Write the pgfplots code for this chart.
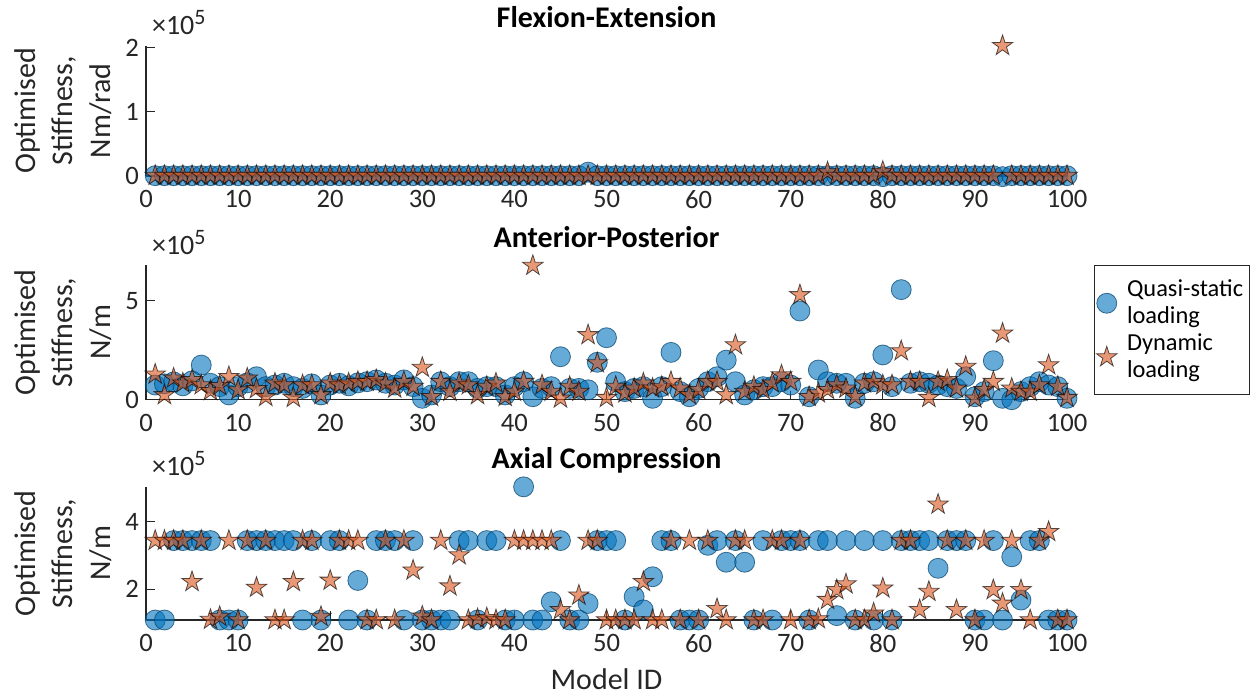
\documentclass[border=0pt]{standalone}
\usepackage{pgfplots}
\pgfplotsset{compat=1.18}
\usepackage{pgfplotstable}
\usepackage{fontspec}
\setmainfont{Carlito}
\definecolor{qblue}{rgb}{0,0.447,0.741}
\definecolor{qorange}{rgb}{0.85,0.325,0.098}
\definecolor{axgray}{rgb}{0.15,0.15,0.15}

\pgfdeclareplotmark{fstar}{%
 \pgfpathmoveto{\pgfpointpolar{90}{\pgfplotmarksize}}%
 \pgfpathlineto{\pgfpointpolar{126}{0.382*\pgfplotmarksize}}%
 \pgfpathlineto{\pgfpointpolar{162}{\pgfplotmarksize}}%
 \pgfpathlineto{\pgfpointpolar{198}{0.382*\pgfplotmarksize}}%
 \pgfpathlineto{\pgfpointpolar{234}{\pgfplotmarksize}}%
 \pgfpathlineto{\pgfpointpolar{270}{0.382*\pgfplotmarksize}}%
 \pgfpathlineto{\pgfpointpolar{306}{\pgfplotmarksize}}%
 \pgfpathlineto{\pgfpointpolar{342}{0.382*\pgfplotmarksize}}%
 \pgfpathlineto{\pgfpointpolar{18}{\pgfplotmarksize}}%
 \pgfpathlineto{\pgfpointpolar{54}{0.382*\pgfplotmarksize}}%
 \pgfpathclose
 \pgfusepathqfillstroke}

% Flexion-Extension (x 1e5 Nm/rad)
\pgfplotstableread{
id c s
1 0.005 0.005
2 0.005 0.005
3 0.005 0.005
4 0.005 0.005
5 0.005 0.005
6 0.005 0.005
7 0.005 0.005
8 0.005 0.005
9 0.005 0.005
10 0.005 0.005
11 0.005 0.005
12 0.005 0.005
13 0.005 0.005
14 0.005 0.005
15 0.005 0.005
16 0.005 0.005
17 0.005 0.005
18 0.005 0.005
19 0.005 0.005
20 0.005 0.005
21 0.005 0.005
22 0.005 0.005
23 0.005 0.005
24 0.005 0.005
25 0.005 0.005
26 0.005 0.005
27 0.005 0.005
28 0.005 0.005
29 0.005 0.005
30 0.005 0.005
31 0.005 0.005
32 0.005 0.005
33 0.005 0.005
34 0.005 0.005
35 0.005 0.005
36 0.005 0.005
37 0.005 0.005
38 0.005 0.005
39 0.005 0.005
40 0.005 0.005
41 0.005 0.005
42 0.005 0.005
43 0.005 0.005
44 0.005 0.005
45 0.005 0.005
46 0.005 0.005
47 0.005 0.005
48 0.06 0.005
49 0.005 0.005
50 0.005 0.005
51 0.005 0.005
52 0.005 0.005
53 0.005 0.005
54 0.005 0.005
55 0.005 0.005
56 0.005 0.005
57 0.005 0.005
58 0.005 0.005
59 0.005 0.005
60 0.005 0.005
61 0.005 0.005
62 0.005 0.005
63 0.005 0.005
64 0.005 0.005
65 0.005 0.005
66 0.005 0.005
67 0.005 0.005
68 0.005 0.005
69 0.005 0.005
70 0.005 0.005
71 0.005 0.005
72 0.005 0.005
73 0.005 0.005
74 0.005 0.06
75 0.005 0.005
76 0.005 0.005
77 0.005 0.005
78 0.005 0.005
79 0.005 0.005
80 -0.01 0.07
81 0.005 0.005
82 0.005 0.005
83 0.005 0.005
84 0.005 0.005
85 0.005 0.005
86 0.005 0.005
87 0.005 0.005
88 0.005 0.005
89 0.005 0.005
90 0.005 0.005
91 0.005 0.005
92 0.005 0.005
93 -0.01 2.03
94 0.005 0.005
95 0.005 0.005
96 0.005 0.005
97 0.005 0.005
98 0.005 0.005
99 0.005 0.005
100 0.005 0.005
}\topdata

% Anterior-Posterior (x 1e5 N/m)
\pgfplotstableread{
id c s
1 0.74 1.28
2 0.80 0.24
3 0.90 1.08
4 0.70 0.83
5 0.95 1.00
6 1.75 0.74
7 0.83 0.45
8 0.66 0.70
9 0.24 1.16
10 0.66 0.49
11 0.85 1.08
12 1.16 0.55
13 0.66 0.15
14 0.74 0.83
15 0.83 0.74
16 0.66 0.10
17 0.57 0.74
18 0.80 0.74
19 0.24 0.24
20 0.74 0.83
21 0.83 0.74
22 0.70 0.83
23 0.85 0.91
24 0.91 0.91
25 1.00 1.00
26 0.83 0.83
27 0.74 0.57
28 1.00 0.91
29 0.66 0.66
30 0.07 1.62
31 0.24 0.15
32 0.91 0.91
33 0.66 0.41
34 0.91 0.83
35 0.91 0.74
36 0.57 0.24
37 0.66 0.66
38 0.66 0.83
39 0.24 0.15
40 0.66 0.41
41 0.91 0.91
42 0.15 6.77
43 0.57 0.74
44 0.66 0.41
45 2.17 0.07
46 0.57 0.66
47 0.57 0.41
48 0.50 3.27
49 1.89 1.85
50 3.13 0.10
51 0.91 0.66
52 0.41 0.33
53 0.57 0.57
54 0.66 0.83
55 0.07 0.57
56 0.66 0.66
57 2.39 0.91
58 0.41 0.57
59 0.15 0.24
60 0.57 0.50
61 0.91 0.91
62 1.16 0.91
63 2.00 0.24
64 0.91 2.76
65 0.24 0.41
66 0.50 0.66
67 0.66 0.50
68 0.66 0.83
69 0.91 1.24
70 0.74 0.91
71 4.48 5.29
72 0.15 0.15
73 1.50 0.33
74 0.91 0.50
75 0.83 0.74
76 0.83 0.57
77 0.07 0.15
78 0.83 0.83
79 0.91 0.91
80 2.26 0.74
81 0.66 0.74
82 5.56 2.46
83 0.83 0.91
84 0.91 0.91
85 0.83 0.10
86 0.74 0.91
87 0.66 1.00
88 0.57 0.57
89 1.16 1.67
90 0.15 0.07
91 0.41 0.50
92 1.97 0.91
93 0.07 3.35
94 0.00 0.57
95 0.41 0.41
96 0.66 0.41
97 0.91 0.74
98 0.74 1.75
99 0.66 0.66
100 0.07 0.10
}\middata

% Axial Compression (x 1e5 N/m)
\pgfplotstableread{
id c s
1 1.09 3.44
2 1.09 3.44
3 3.44 3.44
4 3.44 3.44
5 3.44 2.22
6 3.44 3.44
7 3.44 1.10
8 1.09 1.19
9 1.09 3.44
10 1.09 1.09
11 3.44 3.44
12 3.44 2.05
13 3.44 3.44
14 3.44 1.09
15 3.44 1.09
16 3.44 2.22
17 1.09 3.44
18 3.44 3.44
19 1.09 1.19
20 3.44 2.26
21 3.44 3.44
22 1.09 3.44
23 2.26 3.44
24 1.09 1.09
25 3.44 1.09
26 3.44 3.44
27 3.44 1.09
28 1.09 3.44
29 3.44 2.56
30 1.09 1.20
31 1.09 1.09
32 1.09 3.44
33 1.09 2.09
34 3.44 3.01
35 3.44 1.09
36 1.09 1.12
37 3.44 1.15
38 3.44 1.09
39 1.09 1.09
40 1.09 3.44
41 5.03 3.44
42 1.09 3.44
43 1.09 3.44
44 1.63 3.44
45 3.44 1.39
46 1.09 1.09
47 1.09 1.82
48 1.58 3.44
49 3.44 3.44
50 3.44 1.09
51 3.44 1.09
52 1.09 1.09
53 1.78 1.09
54 1.39 2.22
55 2.37 1.09
56 3.44 1.09
57 3.44 3.44
58 1.09 1.09
59 1.09 3.44
60 1.09 1.09
61 3.30 3.44
62 3.44 1.42
63 2.80 1.09
64 3.44 3.44
65 2.80 3.44
66 1.09 1.09
67 3.44 1.09
68 1.09 3.44
69 3.44 3.44
70 3.44 1.09
71 3.44 3.44
72 1.09 1.09
73 3.44 1.12
74 3.44 1.69
75 1.22 1.98
76 3.44 2.15
77 1.09 1.09
78 3.44 1.09
79 1.09 1.29
80 3.44 2.03
81 1.09 1.09
82 3.44 3.44
83 3.44 3.44
84 3.44 1.39
85 3.44 1.93
86 2.62 4.51
87 3.44 3.44
88 3.44 1.39
89 3.44 3.44
90 1.09 1.09
91 1.09 3.44
92 3.44 1.98
93 1.09 1.58
94 2.96 3.44
95 1.68 1.98
96 3.44 1.09
97 3.44 3.44
98 1.09 3.70
99 1.09 1.09
100 1.09 1.09
}\botdata

\pgfplotsset{
 myax/.style={
  scale only axis, width=460.5pt, xmin=0, xmax=100, clip=false,
  axis x line=bottom, axis y line=left,
  axis line style={-, draw=axgray, line width=0.6pt},
  tick align=inside, major tick length=4.5pt,
  tick style={draw=axgray, line width=0.5pt},
  xtick={0,10,...,100},
  tick label style={font=\fontsize{13.3}{16}\selectfont, text=axgray},
  xticklabel style={yshift=-3.5pt},
  /pgf/number format/assume math mode=true,
  ylabel style={at={(axis description cs:0,0.5)}, anchor=center, rotate=0, yshift=41.5pt,
    align=center, font=\fontsize{15}{18.75}\selectfont, text=axgray},
  every axis title shift=0pt,
  title style={at={(axis description cs:0.5,1)}, anchor=base, yshift=9pt,
    font=\fontsize{15}{18}\selectfont\bfseries},
 },
 circ/.style={only marks, mark=*, mark size=5pt,
   mark options={fill=qblue, fill opacity=0.6, draw=qblue!55!black, draw opacity=0.7, line width=0.4pt}},
 star/.style={only marks, mark=fstar, mark size=5.4pt,
   mark options={fill=qorange, fill opacity=0.6, draw=black, draw opacity=0.65, line width=0.4pt}},
}
\newcommand{\expnode}{\node[anchor=base west, font=\fontsize{14}{16}\selectfont, text=axgray, xshift=-0.5pt, yshift=5.5pt] at (rel axis cs:0,1) {×10\raisebox{0.75ex}{\fontsize{11}{12}\selectfont 5}};}

\begin{document}
\begin{tikzpicture}
\useasboundingbox (0pt,0pt) rectangle (628pt,-348pt);

\begin{axis}[myax, at={(73pt,-88pt)}, anchor=south west,
  height=65.11pt, ymin=0, ymax=2.03, ytick={0,1,2},
  title={Flexion-Extension}, ylabel={Optimised\\Stiffness,\\Nm/rad}]
\addplot[circ] table[x=id, y=c] {\topdata};
\addplot[star] table[x=id, y=s] {\topdata};
\expnode
\end{axis}

\begin{axis}[myax, at={(73pt,-199.85pt)}, anchor=south west,
  height=67.32pt, ymin=0, ymax=6.8, ytick={0,5},
  title={Anterior-Posterior}, ylabel={Optimised\\Stiffness,\\N/m},
  legend style={at={(1.0293,1)}, anchor=north west, draw=axgray, line width=0.5pt,
    font=\fontsize{12.2}{13.75}\selectfont, text=black,
    cells={anchor=west, align=left}, inner xsep=1pt, inner ysep=5pt, row sep=-0.75pt, column sep=3pt},
  legend image code/.code={\draw[mark repeat=2,mark phase=2,#1] plot coordinates {(0pt,0pt) (9pt,0pt) (18pt,0pt)};}]
\addplot[circ] table[x=id, y=c] {\middata};
\addlegendentry{Quasi-static\\loading}
\addplot[star] table[x=id, y=s] {\middata};
\addlegendentry{Dynamic\\loading}
\expnode
\end{axis}

\begin{axis}[myax, at={(73pt,-310pt)}, anchor=south west,
  height=66.59pt, ymin=1.09, ymax=5.03, ytick={2,4},
  title={Axial Compression}, ylabel={Optimised\\Stiffness,\\N/m},
  xlabel={Model ID},
  xlabel style={at={(axis description cs:0.5,0)}, anchor=base, yshift=-34.5pt,
    font=\fontsize{15}{18}\selectfont, text=axgray}]
\addplot[circ] table[x=id, y=c] {\botdata};
\addplot[star] table[x=id, y=s] {\botdata};
\expnode
\end{axis}
\end{tikzpicture}
\end{document}
